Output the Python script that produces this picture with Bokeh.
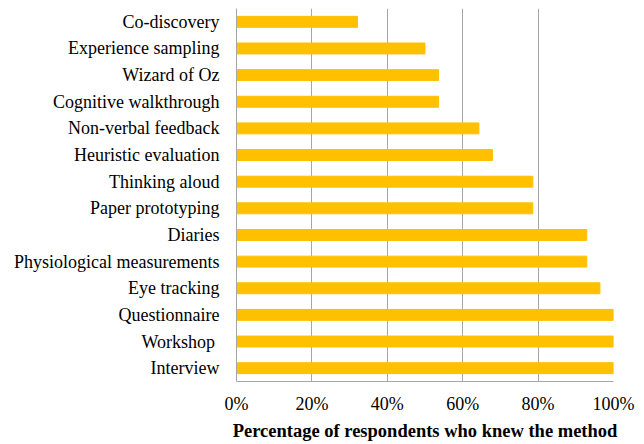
from bokeh.plotting import figure
from bokeh.models import ColumnDataSource, FactorRange, Range1d, NumeralTickFormatter, FixedTicker
from bokeh.embed import file_html
from bokeh.resources import INLINE

methods = ["Co-discovery", "Experience sampling", "Wizard of Oz", "Cognitive walkthrough",
           "Non-verbal feedback", "Heuristic evaluation", "Thinking aloud", "Paper prototyping",
           "Diaries", "Physiological measurements", "Eye tracking", "Questionnaire",
           "Workshop ", "Interview"]
share = [0.321, 0.500, 0.536, 0.536, 0.643, 0.679, 0.786, 0.786,
         0.929, 0.929, 0.964, 1.0, 1.0, 1.0]
ticks = [0, 0.2, 0.4, 0.6, 0.8, 1.0]

src = ColumnDataSource(dict(m=methods, v=share))

p = figure(y_range=FactorRange(factors=list(reversed(methods))),
           x_range=Range1d(0, 1),
           frame_width=377, frame_height=373,
           min_border_left=236, min_border_top=8, min_border_right=23, min_border_bottom=55,
           output_backend="svg", toolbar_location=None)

p.hbar(y="m", right="v", left=0, height=0.41, source=src, color="#FFC000")

p.outline_line_color = None
p.ygrid.grid_line_color = None
p.xgrid.grid_line_color = "#A6A6A6"
p.xgrid.ticker = FixedTicker(ticks=ticks)
p.xaxis.ticker = FixedTicker(ticks=ticks)
p.xaxis.formatter = NumeralTickFormatter(format="0%")

font = "Liberation Serif"
for ax in (p.xaxis[0], p.yaxis[0]):
    ax.axis_line_color = "#A6A6A6"
    ax.major_tick_line_color = None
    ax.minor_tick_line_color = None
    ax.major_label_text_font = font
    ax.major_label_text_font_size = "18px"
    ax.major_label_text_color = "#000000"

p.yaxis.major_label_standoff = 11
p.xaxis.major_label_standoff = 6
p.xaxis.axis_label = "Percentage of respondents who knew the method"
p.xaxis.axis_label_text_font = font
p.xaxis.axis_label_text_font_style = "bold"
p.xaxis.axis_label_text_font_size = "18.5px"
p.xaxis.axis_label_text_color = "#000000"
p.xaxis.axis_label_standoff = 4

open("out.html", "w").write(file_html(p, INLINE))
